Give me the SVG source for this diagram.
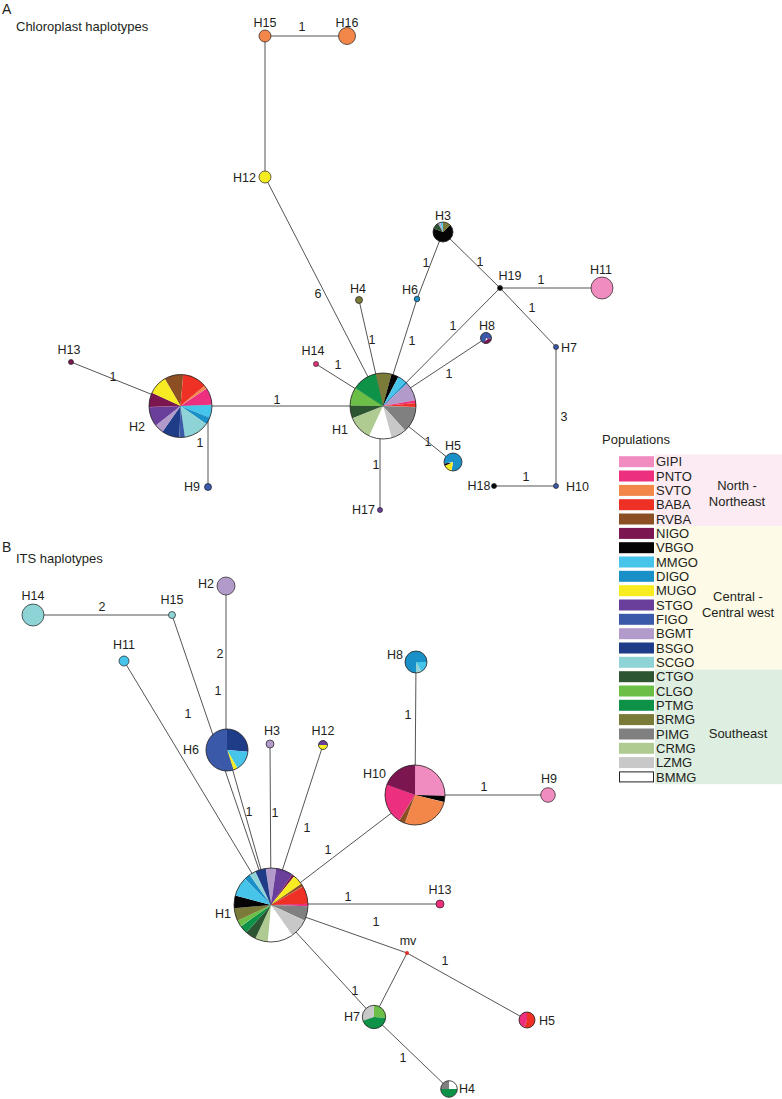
<svg xmlns="http://www.w3.org/2000/svg" width="782" height="1099" viewBox="0 0 782 1099">
<style>
.t{font-family:"Liberation Sans",Arial,sans-serif;font-size:12.5px;fill:#231F20}
.lg{font-size:13px}
.m{text-anchor:middle}.e{text-anchor:end}
.ln{stroke:#555;stroke-width:1;fill:none}
.o{fill:none;stroke:#231F20;stroke-width:0.8}
.p circle{fill:none}
.d{stroke:#231F20;stroke-width:0.7}
.s-gipi{stroke:#F08CC0}.s-pnto{stroke:#EC2F7E}.s-svto{stroke:#F3874A}.s-baba{stroke:#EE3124}.s-rvba{stroke:#8B4F23}
.s-nigo{stroke:#7B1650}.s-vbgo{stroke:#050505}.s-mmgo{stroke:#47C4EA}.s-digo{stroke:#1990C7}.s-mugo{stroke:#F7EC22}
.s-stgo{stroke:#6A3F9B}.s-figo{stroke:#3A59A8}.s-bgmt{stroke:#B29ACB}.s-bsgo{stroke:#1F3C88}.s-scgo{stroke:#8ED3D5}
.s-ctgo{stroke:#2E5531}.s-clgo{stroke:#6BBF47}.s-ptmg{stroke:#0D9247}.s-brmg{stroke:#7A7B38}.s-pimg{stroke:#808080}
.s-crmg{stroke:#AFCB92}.s-lzmg{stroke:#C8C8C8}.s-bmmg{stroke:#FFFFFF}
.f-gipi{fill:#F08CC0}.f-pnto{fill:#EC2F7E}.f-svto{fill:#F3874A}.f-baba{fill:#EE3124}.f-rvba{fill:#8B4F23}
.f-nigo{fill:#7B1650}.f-vbgo{fill:#050505}.f-mmgo{fill:#47C4EA}.f-digo{fill:#1990C7}.f-mugo{fill:#F7EC22}
.f-stgo{fill:#6A3F9B}.f-figo{fill:#3A59A8}.f-bgmt{fill:#B29ACB}.f-bsgo{fill:#1F3C88}.f-scgo{fill:#8ED3D5}
.f-ctgo{fill:#2E5531}.f-clgo{fill:#6BBF47}.f-ptmg{fill:#0D9247}.f-brmg{fill:#7A7B38}.f-pimg{fill:#808080}
.f-crmg{fill:#AFCB92}.f-lzmg{fill:#C8C8C8}.f-bmmg{fill:#FFFFFF}.f-mv{fill:#E0302A}
</style>

<!-- Panel titles -->
<text class="t" x="2" y="14" style="font-size:14px">A</text>
<text class="t lg" x="16" y="31">Chloroplast haplotypes</text>
<text class="t" x="2" y="552" style="font-size:14px">B</text>
<text class="t lg" x="16" y="563">ITS haplotypes</text>

<!-- Connectors -->
<g id="connectors">
 <g id="connA">
  <line class="ln" x1="265" y1="36" x2="347" y2="36"/>
  <line class="ln" x1="265" y1="36" x2="265" y2="177"/>
  <line class="ln" x1="265" y1="177" x2="383" y2="406"/>
  <line class="ln" x1="359" y1="300" x2="383" y2="406"/>
  <line class="ln" x1="417" y1="299" x2="383" y2="406"/>
  <line class="ln" x1="417" y1="299" x2="443" y2="232"/>
  <line class="ln" x1="443" y1="232" x2="500" y2="288"/>
  <line class="ln" x1="500" y1="288" x2="383" y2="406"/>
  <line class="ln" x1="486" y1="338" x2="383" y2="406"/>
  <line class="ln" x1="500" y1="288" x2="602" y2="288"/>
  <line class="ln" x1="500" y1="288" x2="556" y2="347"/>
  <line class="ln" x1="556" y1="347" x2="556" y2="486"/>
  <line class="ln" x1="494" y1="486" x2="556" y2="486"/>
  <line class="ln" x1="316" y1="364" x2="383" y2="406"/>
  <line class="ln" x1="71" y1="362" x2="180.5" y2="406"/>
  <line class="ln" x1="180.5" y1="406" x2="383" y2="406"/>
  <line class="ln" x1="208" y1="415" x2="208" y2="487"/>
  <line class="ln" x1="383" y1="406" x2="453" y2="462"/>
  <line class="ln" x1="380" y1="420" x2="380" y2="510"/>
 </g>
 <g id="connB">
  <line class="ln" x1="226" y1="586" x2="226" y2="750"/>
  <line class="ln" x1="33" y1="615" x2="172" y2="615"/>
  <line class="ln" x1="172" y1="615" x2="271" y2="905"/>
  <line class="ln" x1="124" y1="661" x2="271" y2="905"/>
  <line class="ln" x1="227" y1="750" x2="271" y2="905"/>
  <line class="ln" x1="270" y1="744" x2="271" y2="905"/>
  <line class="ln" x1="323" y1="745" x2="271" y2="905"/>
  <line class="ln" x1="415" y1="795" x2="271" y2="905"/>
  <line class="ln" x1="440" y1="904" x2="271" y2="904"/>
  <line class="ln" x1="271" y1="905" x2="407" y2="953"/>
  <line class="ln" x1="407" y1="953" x2="527" y2="1020"/>
  <line class="ln" x1="271" y1="905" x2="374" y2="1017"/>
  <line class="ln" x1="407" y1="953" x2="374" y2="1017"/>
  <line class="ln" x1="374" y1="1017" x2="449" y2="1089"/>
  <line class="ln" x1="416" y1="662" x2="415" y2="795"/>
  <line class="ln" x1="415" y1="795" x2="548" y2="795"/>
 </g>
</g>

<!-- Panel A nodes -->
<g id="A-H15"><circle class="d f-svto" cx="265" cy="36" r="6"/><text class="t m" x="265" y="27">H15</text></g>
<g id="A-H16"><circle class="d f-svto" cx="347" cy="36" r="8.5"/><text class="t m" x="347" y="27">H16</text></g>
<text class="t m" x="302" y="31">1</text>
<g id="A-H12"><circle class="d f-mugo" cx="265" cy="177" r="6"/><text class="t e" x="256" y="182">H12</text></g>
<text class="t m" x="318" y="298">6</text>
<g id="A-H4"><circle class="d f-brmg" cx="359" cy="300" r="3.5"/><text class="t m" x="358" y="293">H4</text></g>
<text class="t m" x="372" y="344">1</text>
<g id="A-H6"><circle class="d f-digo" cx="417" cy="299" r="2.8"/><text class="t m" x="410" y="294">H6</text></g>
<text class="t m" x="412" y="345">1</text>
<text class="t m" x="426" y="267">1</text>
<g id="A-H3" class="p" stroke-width="10">
 <circle cx="443" cy="232" r="5" pathLength="360" stroke-dasharray="245 360" transform="rotate(-45 443 232)" class="s-vbgo"/>
 <circle cx="443" cy="232" r="5" pathLength="360" stroke-dasharray="40 360" transform="rotate(200 443 232)" class="s-ctgo"/>
 <circle cx="443" cy="232" r="5" pathLength="360" stroke-dasharray="15 360" transform="rotate(240 443 232)" class="s-bgmt"/>
 <circle cx="443" cy="232" r="5" pathLength="360" stroke-dasharray="15 360" transform="rotate(255 443 232)" class="s-mmgo"/>
 <circle cx="443" cy="232" r="5" pathLength="360" stroke-dasharray="45 360" transform="rotate(-90 443 232)" class="s-brmg"/>
 <circle class="o" cx="443" cy="232" r="10"/>
 <text class="t m" x="443" y="220">H3</text>
</g>
<text class="t m" x="480" y="266">1</text>
<g id="A-H19"><circle class="d f-vbgo" cx="500" cy="288" r="2.5"/><text class="t m" x="510" y="280">H19</text></g>
<text class="t m" x="541" y="284">1</text>
<g id="A-H11"><circle class="d f-gipi" cx="602" cy="288" r="11"/><text class="t m" x="601" y="274">H11</text></g>
<text class="t m" x="532" y="312">1</text>
<g id="A-H7"><circle class="d f-figo" cx="556" cy="347" r="2.5"/><text class="t m" x="569" y="352">H7</text></g>
<text class="t m" x="564" y="421">3</text>
<g id="A-H10"><circle class="d f-figo" cx="556" cy="486" r="2.5"/><text class="t" x="566" y="491">H10</text></g>
<g id="A-H18"><circle class="d f-vbgo" cx="494" cy="486" r="2.5"/><text class="t m" x="479" y="490">H18</text></g>
<text class="t m" x="526" y="481">1</text>
<text class="t m" x="453" y="330">1</text>
<text class="t m" x="449" y="378">1</text>
<g id="A-H8" class="p" stroke-width="5.5">
 <circle cx="486" cy="338" r="2.75" pathLength="360" stroke-dasharray="270 360" transform="rotate(100 486 338)" class="s-figo"/>
 <circle cx="486" cy="338" r="2.75" pathLength="360" stroke-dasharray="90 360" transform="rotate(10 486 338)" class="s-nigo"/>
 <circle class="o" cx="486" cy="338" r="5.5"/>
 <text class="t m" x="487" y="330">H8</text>
</g>
<g id="A-H14"><circle class="d f-pnto" cx="316" cy="364" r="2.5"/><text class="t m" x="313" y="355">H14</text></g>
<text class="t m" x="338" y="369">1</text>
<g id="A-H13"><circle class="d f-nigo" cx="71" cy="362" r="2.5"/><text class="t m" x="69" y="354">H13</text></g>
<text class="t m" x="113" y="381">1</text>
<text class="t m" x="277" y="404">1</text>

<g id="A-H2" class="p" stroke-width="31.5">
 <circle cx="180.5" cy="406" r="15.75" pathLength="360" stroke-dasharray="35 360" transform="rotate(240 180.5 406)" class="s-rvba"/>
 <circle cx="180.5" cy="406" r="15.75" pathLength="360" stroke-dasharray="45 360" transform="rotate(-85 180.5 406)" class="s-baba"/>
 <circle cx="180.5" cy="406" r="15.75" pathLength="360" stroke-dasharray="6 360" transform="rotate(-40 180.5 406)" class="s-svto"/>
 <circle cx="180.5" cy="406" r="15.75" pathLength="360" stroke-dasharray="32 360" transform="rotate(-34 180.5 406)" class="s-pnto"/>
 <circle cx="180.5" cy="406" r="15.75" pathLength="360" stroke-dasharray="24 360" transform="rotate(-2 180.5 406)" class="s-mmgo"/>
 <circle cx="180.5" cy="406" r="15.75" pathLength="360" stroke-dasharray="13 360" transform="rotate(22 180.5 406)" class="s-digo"/>
 <circle cx="180.5" cy="406" r="15.75" pathLength="360" stroke-dasharray="47 360" transform="rotate(35 180.5 406)" class="s-scgo"/>
 <circle cx="180.5" cy="406" r="15.75" pathLength="360" stroke-dasharray="10 360" transform="rotate(82 180.5 406)" class="s-figo"/>
 <circle cx="180.5" cy="406" r="15.75" pathLength="360" stroke-dasharray="33 360" transform="rotate(92 180.5 406)" class="s-bsgo"/>
 <circle cx="180.5" cy="406" r="15.75" pathLength="360" stroke-dasharray="17 360" transform="rotate(125 180.5 406)" class="s-bgmt"/>
 <circle cx="180.5" cy="406" r="15.75" pathLength="360" stroke-dasharray="36 360" transform="rotate(142 180.5 406)" class="s-stgo"/>
 <circle cx="180.5" cy="406" r="15.75" pathLength="360" stroke-dasharray="27 360" transform="rotate(178 180.5 406)" class="s-nigo"/>
 <circle cx="180.5" cy="406" r="15.75" pathLength="360" stroke-dasharray="35 360" transform="rotate(205 180.5 406)" class="s-mugo"/>
 <circle class="o" cx="180.5" cy="406" r="31.5"/>
 <text class="t m" x="137" y="431">H2</text>
</g>

<g id="A-H1" class="p" stroke-width="33">
 <circle cx="383" cy="406" r="16.5" pathLength="360" stroke-dasharray="28 360" transform="rotate(257 383 406)" class="s-brmg"/>
 <circle cx="383" cy="406" r="16.5" pathLength="360" stroke-dasharray="13 360" transform="rotate(-75 383 406)" class="s-vbgo"/>
 <circle cx="383" cy="406" r="16.5" pathLength="360" stroke-dasharray="15 360" transform="rotate(-62 383 406)" class="s-mmgo"/>
 <circle cx="383" cy="406" r="16.5" pathLength="360" stroke-dasharray="4 360" transform="rotate(-47 383 406)" class="s-digo"/>
 <circle cx="383" cy="406" r="16.5" pathLength="360" stroke-dasharray="33 360" transform="rotate(-43 383 406)" class="s-bgmt"/>
 <circle cx="383" cy="406" r="16.5" pathLength="360" stroke-dasharray="5 360" transform="rotate(-10 383 406)" class="s-pnto"/>
 <circle cx="383" cy="406" r="16.5" pathLength="360" stroke-dasharray="7 360" transform="rotate(-5 383 406)" class="s-baba"/>
 <circle cx="383" cy="406" r="16.5" pathLength="360" stroke-dasharray="46 360" transform="rotate(2 383 406)" class="s-pimg"/>
 <circle cx="383" cy="406" r="16.5" pathLength="360" stroke-dasharray="27 360" transform="rotate(48 383 406)" class="s-lzmg"/>
 <circle cx="383" cy="406" r="16.5" pathLength="360" stroke-dasharray="40 360" transform="rotate(75 383 406)" class="s-bmmg"/>
 <circle cx="383" cy="406" r="16.5" pathLength="360" stroke-dasharray="43 360" transform="rotate(115 383 406)" class="s-crmg"/>
 <circle cx="383" cy="406" r="16.5" pathLength="360" stroke-dasharray="23 360" transform="rotate(158 383 406)" class="s-ctgo"/>
 <circle cx="383" cy="406" r="16.5" pathLength="360" stroke-dasharray="32 360" transform="rotate(181 383 406)" class="s-clgo"/>
 <circle cx="383" cy="406" r="16.5" pathLength="360" stroke-dasharray="44 360" transform="rotate(213 383 406)" class="s-ptmg"/>
 <circle class="o" cx="383" cy="406" r="33"/>
 <text class="t m" x="340" y="434">H1</text>
</g>
<text class="t m" x="200" y="447">1</text>
<g id="A-H9"><circle class="d f-figo" cx="208" cy="487" r="3.5"/><text class="t e" x="200" y="491">H9</text></g>
<text class="t m" x="428" y="446">1</text>
<g id="A-H5" class="p" stroke-width="9">
 <circle cx="453" cy="462" r="4.5" pathLength="360" stroke-dasharray="290 360" transform="rotate(170 453 462)" class="s-digo"/>
 <circle cx="453" cy="462" r="4.5" pathLength="360" stroke-dasharray="55 360" transform="rotate(100 453 462)" class="s-mugo"/>
 <circle cx="453" cy="462" r="4.5" pathLength="360" stroke-dasharray="15 360" transform="rotate(155 453 462)" class="s-vbgo"/>
 <circle class="o" cx="453" cy="462" r="9"/>
 <text class="t" x="445" y="450">H5</text>
</g>
<text class="t m" x="376" y="469">1</text>
<g id="A-H17"><circle class="d f-stgo" cx="380" cy="510" r="2.5"/><text class="t e" x="375" y="514">H17</text></g>

<!-- Panel B nodes -->
<g id="B-H2"><circle class="d f-bgmt" cx="226" cy="586" r="9"/><text class="t m" x="206" y="588">H2</text></g>
<text class="t m" x="220" y="658">2</text>
<g id="B-H14"><circle class="d f-scgo" cx="33" cy="615" r="11"/><text class="t m" x="33" y="600">H14</text></g>
<text class="t m" x="102" y="611">2</text>
<g id="B-H15"><circle class="d f-scgo" cx="172" cy="615" r="3.5"/><text class="t m" x="172" y="604">H15</text></g>
<text class="t m" x="218" y="695">1</text>
<g id="B-H11"><circle class="d f-mmgo" cx="124" cy="661" r="5"/><text class="t m" x="124" y="649">H11</text></g>
<text class="t m" x="188" y="718">1</text>
<g id="B-H6" class="p" stroke-width="21">
 <circle cx="227" cy="750" r="10.5" pathLength="360" stroke-dasharray="95 360" transform="rotate(-90 227 750)" class="s-bsgo"/>
 <circle cx="227" cy="750" r="10.5" pathLength="360" stroke-dasharray="55 360" transform="rotate(5 227 750)" class="s-mmgo"/>
 <circle cx="227" cy="750" r="10.5" pathLength="360" stroke-dasharray="12 360" transform="rotate(60 227 750)" class="s-mugo"/>
 <circle cx="227" cy="750" r="10.5" pathLength="360" stroke-dasharray="198 360" transform="rotate(72 227 750)" class="s-figo"/>
 <circle class="o" cx="227" cy="750" r="21"/>
 <text class="t m" x="191" y="754">H6</text>
</g>
<g id="B-H3"><circle class="d f-bgmt" cx="270" cy="744" r="4"/><text class="t m" x="272" y="735">H3</text></g>
<g id="B-H12" class="p" stroke-width="4.5">
 <circle cx="323" cy="745" r="2.25" pathLength="360" stroke-dasharray="180 360" transform="rotate(180 323 745)" class="s-stgo"/>
 <circle cx="323" cy="745" r="2.25" pathLength="360" stroke-dasharray="180 360" transform="rotate(0 323 745)" class="s-mugo"/>
 <circle class="o" cx="323" cy="745" r="4.5"/>
 <text class="t m" x="323" y="735">H12</text>
</g>
<text class="t m" x="249" y="816">1</text>
<text class="t m" x="275" y="817">1</text>
<text class="t m" x="307" y="832">1</text>
<text class="t m" x="328" y="854">1</text>
<g id="B-H8" class="p" stroke-width="11">
 <circle cx="416" cy="662" r="5.5" pathLength="360" stroke-dasharray="270 360" transform="rotate(90 416 662)" class="s-digo"/>
 <circle cx="416" cy="662" r="5.5" pathLength="360" stroke-dasharray="60 360" transform="rotate(0 416 662)" class="s-mmgo"/>
 <circle cx="416" cy="662" r="5.5" pathLength="360" stroke-dasharray="30 360" transform="rotate(60 416 662)" class="s-scgo"/>
 <circle class="o" cx="416" cy="662" r="11"/>
 <text class="t e" x="403" y="659">H8</text>
</g>
<text class="t m" x="408" y="719">1</text>
<g id="B-H10" class="p" stroke-width="30">
 <circle cx="415" cy="795" r="15" pathLength="360" stroke-dasharray="92 360" transform="rotate(-90 415 795)" class="s-gipi"/>
 <circle cx="415" cy="795" r="15" pathLength="360" stroke-dasharray="12 360" transform="rotate(2 415 795)" class="s-vbgo"/>
 <circle cx="415" cy="795" r="15" pathLength="360" stroke-dasharray="96 360" transform="rotate(14 415 795)" class="s-svto"/>
 <circle cx="415" cy="795" r="15" pathLength="360" stroke-dasharray="12 360" transform="rotate(110 415 795)" class="s-rvba"/>
 <circle cx="415" cy="795" r="15" pathLength="360" stroke-dasharray="78 360" transform="rotate(122 415 795)" class="s-pnto"/>
 <circle cx="415" cy="795" r="15" pathLength="360" stroke-dasharray="70 360" transform="rotate(200 415 795)" class="s-nigo"/>
 <circle class="o" cx="415" cy="795" r="30"/>
 <text class="t e" x="386" y="778">H10</text>
</g>
<text class="t m" x="484" y="791">1</text>
<g id="B-H9"><circle class="d f-gipi" cx="548" cy="795" r="7.3"/><text class="t m" x="549" y="783">H9</text></g>

<g id="B-H1" class="p" stroke-width="37">
 <circle cx="271" cy="905" r="18.5" pathLength="360" stroke-dasharray="16 360" transform="rotate(262 271 905)" class="s-bgmt"/>
 <circle cx="271" cy="905" r="18.5" pathLength="360" stroke-dasharray="27 360" transform="rotate(-82 271 905)" class="s-stgo"/>
 <circle cx="271" cy="905" r="18.5" pathLength="360" stroke-dasharray="4 360" transform="rotate(-55 271 905)" class="s-nigo"/>
 <circle cx="271" cy="905" r="18.5" pathLength="360" stroke-dasharray="16 360" transform="rotate(-51 271 905)" class="s-mugo"/>
 <circle cx="271" cy="905" r="18.5" pathLength="360" stroke-dasharray="5 360" transform="rotate(-35 271 905)" class="s-rvba"/>
 <circle cx="271" cy="905" r="18.5" pathLength="360" stroke-dasharray="28 360" transform="rotate(-30 271 905)" class="s-baba"/>
 <circle cx="271" cy="905" r="18.5" pathLength="360" stroke-dasharray="4 360" transform="rotate(-2 271 905)" class="s-pnto"/>
 <circle cx="271" cy="905" r="18.5" pathLength="360" stroke-dasharray="23 360" transform="rotate(2 271 905)" class="s-pimg"/>
 <circle cx="271" cy="905" r="18.5" pathLength="360" stroke-dasharray="30 360" transform="rotate(25 271 905)" class="s-lzmg"/>
 <circle cx="271" cy="905" r="18.5" pathLength="360" stroke-dasharray="40 360" transform="rotate(55 271 905)" class="s-bmmg"/>
 <circle cx="271" cy="905" r="18.5" pathLength="360" stroke-dasharray="20 360" transform="rotate(95 271 905)" class="s-crmg"/>
 <circle cx="271" cy="905" r="18.5" pathLength="360" stroke-dasharray="17 360" transform="rotate(115 271 905)" class="s-ctgo"/>
 <circle cx="271" cy="905" r="18.5" pathLength="360" stroke-dasharray="13 360" transform="rotate(132 271 905)" class="s-ptmg"/>
 <circle cx="271" cy="905" r="18.5" pathLength="360" stroke-dasharray="10 360" transform="rotate(145 271 905)" class="s-clgo"/>
 <circle cx="271" cy="905" r="18.5" pathLength="360" stroke-dasharray="20 360" transform="rotate(155 271 905)" class="s-brmg"/>
 <circle cx="271" cy="905" r="18.5" pathLength="360" stroke-dasharray="20 360" transform="rotate(175 271 905)" class="s-vbgo"/>
 <circle cx="271" cy="905" r="18.5" pathLength="360" stroke-dasharray="30 360" transform="rotate(195 271 905)" class="s-mmgo"/>
 <circle cx="271" cy="905" r="18.5" pathLength="360" stroke-dasharray="10 360" transform="rotate(225 271 905)" class="s-digo"/>
 <circle cx="271" cy="905" r="18.5" pathLength="360" stroke-dasharray="10 360" transform="rotate(235 271 905)" class="s-scgo"/>
 <circle cx="271" cy="905" r="18.5" pathLength="360" stroke-dasharray="17 360" transform="rotate(245 271 905)" class="s-bsgo"/>
 <circle class="o" cx="271" cy="905" r="37"/>
 <text class="t e" x="231" y="918">H1</text>
</g>
<text class="t m" x="348" y="901">1</text>
<g id="B-H13"><circle class="d f-pnto" cx="440" cy="904" r="4"/><text class="t m" x="440" y="894">H13</text></g>
<text class="t m" x="376" y="926">1</text>
<g id="B-mv"><circle class="f-mv" cx="407" cy="953" r="2"/><text class="t m" x="408" y="945">mv</text></g>
<text class="t m" x="445" y="965">1</text>
<g id="B-H5" class="p" stroke-width="8">
 <circle cx="527" cy="1020" r="4" pathLength="360" stroke-dasharray="200 360" transform="rotate(-90 527 1020)" class="s-baba"/>
 <circle cx="527" cy="1020" r="4" pathLength="360" stroke-dasharray="160 360" transform="rotate(110 527 1020)" class="s-pnto"/>
 <circle class="o" cx="527" cy="1020" r="8"/>
 <text class="t" x="539" y="1025">H5</text>
</g>
<text class="t m" x="355" y="995">1</text>
<g id="B-H7" class="p" stroke-width="11.7">
 <circle cx="374" cy="1017" r="5.85" pathLength="360" stroke-dasharray="110 360" transform="rotate(160 374 1017)" class="s-lzmg"/>
 <circle cx="374" cy="1017" r="5.85" pathLength="360" stroke-dasharray="95 360" transform="rotate(-90 374 1017)" class="s-clgo"/>
 <circle cx="374" cy="1017" r="5.85" pathLength="360" stroke-dasharray="155 360" transform="rotate(5 374 1017)" class="s-ptmg"/>
 <circle class="o" cx="374" cy="1017" r="11.7"/>
 <text class="t e" x="360" y="1021">H7</text>
</g>
<text class="t m" x="403" y="1062">1</text>
<g id="B-H4" class="p" stroke-width="8.3">
 <circle cx="449" cy="1089" r="4.15" pathLength="360" stroke-dasharray="90 360" transform="rotate(180 449 1089)" class="s-pimg"/>
 <circle cx="449" cy="1089" r="4.15" pathLength="360" stroke-dasharray="90 360" transform="rotate(-90 449 1089)" class="s-bmmg"/>
 <circle cx="449" cy="1089" r="4.15" pathLength="360" stroke-dasharray="180 360" transform="rotate(0 449 1089)" class="s-ptmg"/>
 <circle class="o" cx="449" cy="1089" r="8.3"/>
 <text class="t" x="459" y="1093">H4</text>
</g>

<!-- Legend -->
<g id="legend">
 <text class="t lg" x="602" y="444">Populations</text>
 <rect x="655" y="454.5" width="127" height="71.7" fill="#FCEBF3"/>
 <rect x="655" y="526.2" width="127" height="143.3" fill="#FDFBE7"/>
 <rect x="655" y="669.5" width="127" height="114.7" fill="#DEEEE0"/>
 <rect class="f-gipi" x="619" y="456.2" width="35" height="11"/><text class="t lg" x="656" y="466.4">GIPI</text>
 <rect class="f-pnto" x="619" y="470.5" width="35" height="11"/><text class="t lg" x="656" y="480.7">PNTO</text>
 <rect class="f-svto" x="619" y="484.9" width="35" height="11"/><text class="t lg" x="656" y="495.1">SVTO</text>
 <rect class="f-baba" x="619" y="499.2" width="35" height="11"/><text class="t lg" x="656" y="509.4">BABA</text>
 <rect class="f-rvba" x="619" y="513.5" width="35" height="11"/><text class="t lg" x="656" y="523.7">RVBA</text>
 <rect class="f-nigo" x="619" y="527.9" width="35" height="11"/><text class="t lg" x="656" y="538.1">NIGO</text>
 <rect class="f-vbgo" x="619" y="542.2" width="35" height="11"/><text class="t lg" x="656" y="552.4">VBGO</text>
 <rect class="f-mmgo" x="619" y="556.5" width="35" height="11"/><text class="t lg" x="656" y="566.7">MMGO</text>
 <rect class="f-digo" x="619" y="570.8" width="35" height="11"/><text class="t lg" x="656" y="581.0">DIGO</text>
 <rect class="f-mugo" x="619" y="585.2" width="35" height="11"/><text class="t lg" x="656" y="595.4">MUGO</text>
 <rect class="f-stgo" x="619" y="599.5" width="35" height="11"/><text class="t lg" x="656" y="609.7">STGO</text>
 <rect class="f-figo" x="619" y="613.8" width="35" height="11"/><text class="t lg" x="656" y="624.0">FIGO</text>
 <rect class="f-bgmt" x="619" y="628.2" width="35" height="11"/><text class="t lg" x="656" y="638.4">BGMT</text>
 <rect class="f-bsgo" x="619" y="642.5" width="35" height="11"/><text class="t lg" x="656" y="652.7">BSGO</text>
 <rect class="f-scgo" x="619" y="656.8" width="35" height="11"/><text class="t lg" x="656" y="667.0">SCGO</text>
 <rect class="f-ctgo" x="619" y="671.2" width="35" height="11"/><text class="t lg" x="656" y="681.4">CTGO</text>
 <rect class="f-clgo" x="619" y="685.5" width="35" height="11"/><text class="t lg" x="656" y="695.7">CLGO</text>
 <rect class="f-ptmg" x="619" y="699.8" width="35" height="11"/><text class="t lg" x="656" y="710.0">PTMG</text>
 <rect class="f-brmg" x="619" y="714.1" width="35" height="11"/><text class="t lg" x="656" y="724.3">BRMG</text>
 <rect class="f-pimg" x="619" y="728.5" width="35" height="11"/><text class="t lg" x="656" y="738.7">PIMG</text>
 <rect class="f-crmg" x="619" y="742.8" width="35" height="11"/><text class="t lg" x="656" y="753.0">CRMG</text>
 <rect class="f-lzmg" x="619" y="757.1" width="35" height="11"/><text class="t lg" x="656" y="767.3">LZMG</text>
 <rect x="619.5" y="771.9" width="34" height="10" fill="#FFFFFF" stroke="#231F20" stroke-width="1"/><text class="t lg" x="656" y="781.7">BMMG</text>
 <text class="t lg m" x="737" y="489.6">North -</text>
 <text class="t lg m" x="737" y="505.6">Northeast</text>
 <text class="t lg m" x="738" y="601">Central -</text>
 <text class="t lg m" x="738" y="617">Central west</text>
 <text class="t lg m" x="738" y="737.5">Southeast</text>
</g>
</svg>
